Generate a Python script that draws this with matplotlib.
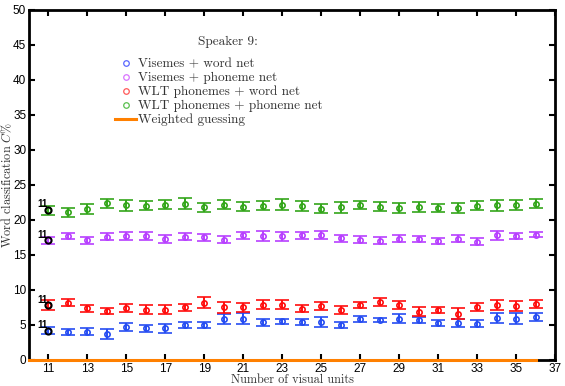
import matplotlib
matplotlib.use("Agg")
import matplotlib.pyplot as plt
from matplotlib.lines import Line2D
import numpy as np

plt.rcParams['mathtext.fontset'] = 'cm'

units = list(range(11, 37))

green = [21.4, 21.1, 21.6, 22.4, 22.1, 22.0, 22.2, 22.3, 21.8, 22.2, 21.9, 22.0, 22.2,
         22.0, 21.6, 21.8, 22.1, 21.9, 21.7, 21.8, 21.7, 21.7, 22.0, 22.1, 22.1, 22.3]
green_err = [0.64, 0.67, 0.69, 0.64, 0.79, 0.64, 0.6, 0.79, 0.6, 0.67, 0.69, 0.64, 0.79,
             0.69, 0.64, 0.76, 0.6, 0.64, 0.67, 0.71, 0.62, 0.74, 0.64, 0.79, 0.69, 0.62]

purple = [17.1, 17.7, 17.1, 17.6, 17.7, 17.7, 17.3, 17.6, 17.5, 17.2, 17.8, 17.7, 17.7,
          17.8, 17.9, 17.4, 17.2, 17.0, 17.3, 17.3, 17.0, 17.3, 16.9, 17.8, 17.7, 17.9]
purple_err = [0.5, 0.45, 0.52, 0.52, 0.55, 0.57, 0.62, 0.52, 0.52, 0.5, 0.48, 0.67, 0.64,
              0.5, 0.57, 0.5, 0.48, 0.5, 0.52, 0.4, 0.43, 0.5, 0.52, 0.62, 0.48, 0.36]

red = [7.8, 8.2, 7.4, 7.0, 7.4, 7.2, 7.2, 7.5, 8.2, 7.5, 7.5, 7.9, 7.9,
       7.3, 7.7, 7.1, 7.9, 8.3, 7.9, 6.9, 7.1, 6.6, 7.6, 7.8, 7.7, 8.0]
red_err = [0.71, 0.48, 0.48, 0.43, 0.57, 0.6, 0.64, 0.55, 0.79, 0.76, 0.67, 0.6, 0.62,
           0.5, 0.52, 0.6, 0.45, 0.62, 0.57, 0.67, 0.43, 0.81, 0.6, 0.71, 0.69, 0.52]

blue = [4.2, 4.0, 4.0, 3.7, 4.7, 4.5, 4.5, 5.0, 5.0, 5.8, 5.9, 5.4, 5.5,
        5.4, 5.4, 5.0, 5.8, 5.7, 5.9, 5.7, 5.3, 5.3, 5.2, 6.0, 5.9, 6.1]
blue_err = [0.55, 0.4, 0.5, 0.67, 0.62, 0.5, 0.6, 0.43, 0.47, 0.71, 0.76, 0.5, 0.4,
            0.4, 0.67, 0.43, 0.43, 0.31, 0.62, 0.38, 0.38, 0.62, 0.55, 0.74, 0.74, 0.6]

guess_x = [10, 36]
guess_y = [0, 0]

legend_title = "Speaker 9:"
labels = ["Visemes + word net", "Visemes + phoneme net",
          "WLT phonemes + word net", "WLT phonemes + phoneme net", "Weighted guessing"]

fig = plt.figure(figsize=(5.65, 3.86), dpi=100)
ax = fig.add_axes([0.0513, 0.0674, 0.931, 0.907])

series = [
    (blue, blue_err, (0.15, 0.3, 0.95)),
    (red, red_err, (1.0, 0.05, 0.05)),
    (purple, purple_err, (0.72, 0.25, 1.0)),
    (green, green_err, (0.2, 0.65, 0.1)),
]
for vals, errs, col in series:
    ax.errorbar(units, vals, yerr=errs, fmt='o', color=col, mfc='none', mec=col,
                ms=3.8, mew=1.2, elinewidth=1.4, capsize=5.2, capthick=1.6, zorder=3)
    ax.plot(units[0], vals[0], 'o', mfc='none', mec='black', ms=4.5, mew=1.4, zorder=4)
    ax.text(units[0] - 0.55, vals[0] + 0.1, str(units[0]), fontsize=7, fontweight='bold',
            family='Liberation Sans', ha='left', va='bottom', zorder=5)

ax.plot(guess_x, guess_y, color=(1.0, 0.5, 0.0), lw=2.2, zorder=6, clip_on=False)

ax.set_xlim(10, 37)
ax.set_ylim(0, 50)
ax.set_xticks(range(11, 38, 2))
ax.set_yticks(range(0, 51, 5))
for lab in ax.get_xticklabels() + ax.get_yticklabels():
    lab.set_family('Liberation Sans')
    lab.set_fontsize(8.5)
ax.tick_params(direction='in', length=4, width=1.5, top=True, right=True, pad=2)
for s in ax.spines.values():
    s.set_linewidth(2.0)

ax.set_xlabel("Number of visual units", family='cmr10', fontsize=8.8, color='#333333')
ax.xaxis.set_label_coords(0.5, -0.04)
ax.set_ylabel(r"Word classification $C\%$", family='cmr10', fontsize=8.8, color='#333333')
ax.yaxis.set_label_coords(-0.028, 0.5)

handles = [
    Line2D([], [], ls='none', marker='o', mfc='none', mec=(0.35, 0.4, 1.0), ms=4, mew=0.9),
    Line2D([], [], ls='none', marker='o', mfc='none', mec=(0.85, 0.45, 1.0), ms=4, mew=0.9),
    Line2D([], [], ls='none', marker='o', mfc='none', mec=(1.0, 0.35, 0.35), ms=4, mew=0.9),
    Line2D([], [], ls='none', marker='o', mfc='none', mec=(0.35, 0.75, 0.3), ms=4, mew=0.9),
    Line2D([], [], color=(1.0, 0.5, 0.0), lw=2.2),
]
leg = ax.legend(handles, labels, loc='upper left',
                bbox_to_anchor=(0.154, 0.877), frameon=False, handlelength=1.6,
                handletextpad=0.1, labelspacing=0.12, borderaxespad=0,
                prop={'family': 'cmr10', 'size': 9.5})
for t in leg.get_texts():
    t.set_color('#333333')
ax.text(0.378, 0.909, legend_title, transform=ax.transAxes, family='cmr10', fontsize=9.5,
        color='#333333', ha='center', va='center')

fig.savefig("out.png", dpi=100)
